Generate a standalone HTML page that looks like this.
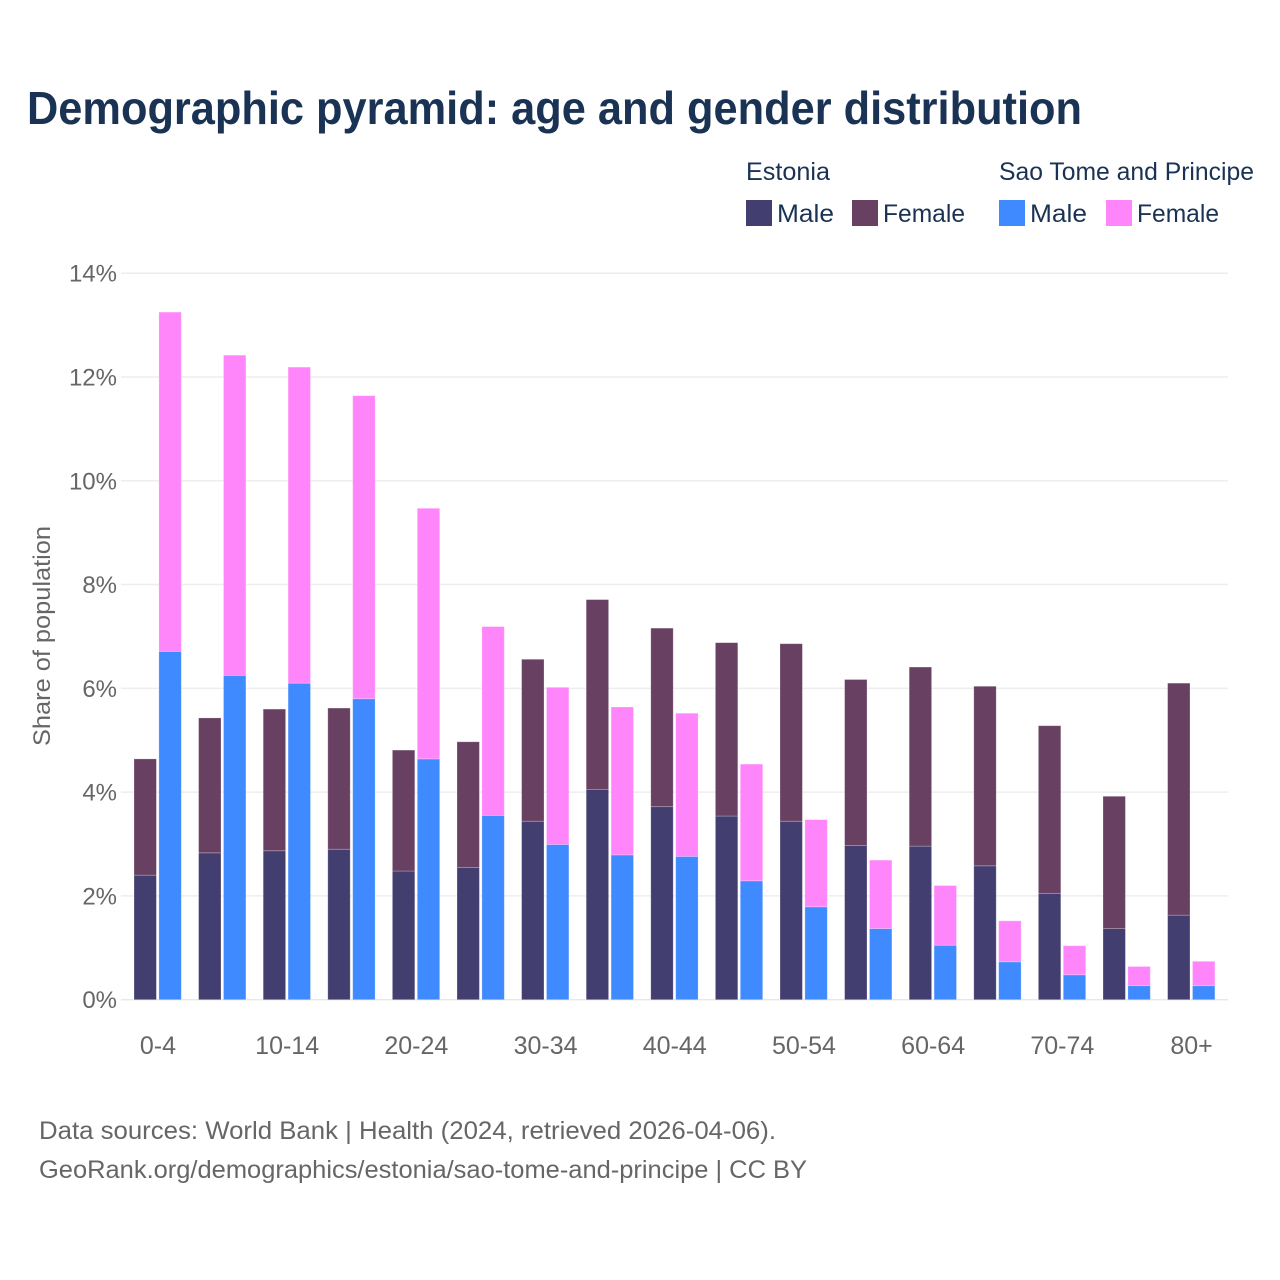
<!DOCTYPE html>
<html lang="en">
<head>
<meta charset="utf-8">
<title>Demographic pyramid: age and gender distribution</title>
<style>
html,body{margin:0;padding:0;background:#fff;width:1280px;height:1280px;overflow:hidden}
svg{display:block}
text{font-family:"Liberation Sans",sans-serif}
</style>
</head>
<body>
<svg id="chart" xmlns="http://www.w3.org/2000/svg" width="1280" height="1280" viewBox="0 0 1280 1280">
<rect width="1280" height="1280" fill="#fff"/>
<text x="27" y="124" font-size="46" font-weight="700" fill="#1a3254" textLength="1055" lengthAdjust="spacingAndGlyphs">Demographic pyramid: age and gender distribution</text>

<text x="746" y="180" font-size="25" fill="#1a3254" textLength="84" lengthAdjust="spacingAndGlyphs">Estonia</text>
<text x="999" y="180" font-size="25" fill="#1a3254" textLength="255" lengthAdjust="spacingAndGlyphs">Sao Tome and Principe</text>

<rect x="746" y="200" width="26" height="26" fill="#433e70"/>
<text x="777" y="222" font-size="25" fill="#1a3254" textLength="57" lengthAdjust="spacingAndGlyphs">Male</text>
<rect x="852" y="200" width="26" height="26" fill="#674062"/>
<text x="883" y="222" font-size="25" fill="#1a3254" textLength="82" lengthAdjust="spacingAndGlyphs">Female</text>
<rect x="999" y="200" width="26" height="26" fill="#3f8aff"/>
<text x="1030" y="222" font-size="25" fill="#1a3254" textLength="57" lengthAdjust="spacingAndGlyphs">Male</text>
<rect x="1106" y="200" width="26" height="26" fill="#ff86fa"/>
<text x="1137" y="222" font-size="25" fill="#1a3254" textLength="82" lengthAdjust="spacingAndGlyphs">Female</text>

<g id="grid"></g>
<g id="bars"></g>
<g id="xticks"></g>

<text transform="translate(50,636) rotate(-90)" text-anchor="middle" font-size="24" fill="#666" textLength="220" lengthAdjust="spacingAndGlyphs">Share of population</text>

<text x="39" y="1139" font-size="25" fill="#666" textLength="737" lengthAdjust="spacingAndGlyphs">Data sources: World Bank | Health (2024, retrieved 2026-04-06).</text>
<text x="39" y="1178" font-size="25" fill="#666" textLength="768" lengthAdjust="spacingAndGlyphs">GeoRank.org/demographics/estonia/sao-tome-and-principe | CC BY</text>
</svg>
<script>
const ageGroups = ["0-4","5-9","10-14","15-19","20-24","25-29","30-34","35-39","40-44","45-49","50-54","55-59","60-64","65-69","70-74","75-79","80+"];
const visibleAgeLabels = ["0-4","10-14","20-24","30-34","40-44","50-54","60-64","70-74","80+"];
const estoniaMale = [2.40,2.83,2.87,2.90,2.48,2.55,3.44,4.05,3.72,3.54,3.44,2.97,2.96,2.58,2.05,1.37,1.63];
const estoniaFemale = [2.24,2.60,2.73,2.72,2.33,2.42,3.12,3.66,3.44,3.34,3.42,3.20,3.45,3.46,3.23,2.55,4.47];
const stpMale = [6.71,6.25,6.10,5.80,4.64,3.55,2.99,2.79,2.76,2.29,1.79,1.37,1.05,0.73,0.48,0.27,0.27];
const stpFemale = [6.54,6.17,6.09,5.84,4.83,3.64,3.03,2.85,2.76,2.25,1.68,1.32,1.15,0.79,0.56,0.37,0.47];
const yTicks = [0,2,4,6,8,10,12,14];

const NS = "http://www.w3.org/2000/svg";
const plotLeft = 121, plotRight = 1228, baseY = 999.7, topY = 273.2, yMax = 14;
const firstX = 134, groupStep = 64.6, barW = 22.4, barGap = 24.9;
const yScale = v => baseY - (v / yMax) * (baseY - topY);
const xScale = i => firstX + i * groupStep;

const grid = document.getElementById("grid");
yTicks.forEach(t => {
  const l = document.createElementNS(NS, "line");
  l.setAttribute("x1", plotLeft);
  l.setAttribute("x2", plotRight);
  l.setAttribute("y1", yScale(t));
  l.setAttribute("y2", yScale(t));
  l.setAttribute("stroke", t === 0 ? "#e8e8ea" : "#eeeeef");
  l.setAttribute("stroke-width", "1.5");
  
  
  grid.appendChild(l);
  const tx = document.createElementNS(NS, "text");
  tx.setAttribute("x", 117);
  tx.setAttribute("y", yScale(t) + 8.5);
  tx.setAttribute("text-anchor", "end");
  tx.setAttribute("font-size", "24");
  tx.setAttribute("fill", "#666");
  tx.textContent = t + "%";
  
  
  grid.appendChild(tx);
});

const barsG = document.getElementById("bars");
function addBar(x, v0, v1, fill, name) {
  const r = document.createElementNS(NS, "rect");
  r.setAttribute("x", x);
  r.setAttribute("y", yScale(v1));
  r.setAttribute("width", barW);
  r.setAttribute("height", yScale(v0) - yScale(v1));
  r.setAttribute("fill", fill);
  r.setAttribute("stroke", "#fff");
  r.setAttribute("stroke-opacity", "0.3");
  r.setAttribute("stroke-width", "0.8");
  
  
  barsG.appendChild(r);
}
ageGroups.forEach((g, i) => {
  const x = xScale(i);
  addBar(x, 0, estoniaMale[i], "#433e70", "bar-estonia-male");
  addBar(x, estoniaMale[i], estoniaMale[i] + estoniaFemale[i], "#674062", "bar-estonia-female");
  addBar(x + barGap, 0, stpMale[i], "#3f8aff", "bar-stp-male");
  addBar(x + barGap, stpMale[i], stpMale[i] + stpFemale[i], "#ff86fa", "bar-stp-female");
});

const xt = document.getElementById("xticks");
ageGroups.forEach((g, i) => {
  if (!visibleAgeLabels.includes(g)) return;
  const tx = document.createElementNS(NS, "text");
  tx.setAttribute("x", xScale(i) + (barGap + barW) / 2 + 0.3);
  tx.setAttribute("y", 1054);
  tx.setAttribute("text-anchor", "middle");
  tx.setAttribute("font-size", "25");
  tx.setAttribute("fill", "#666");
  tx.textContent = g;
  
  
  xt.appendChild(tx);
});
</script>
</body>
</html>
